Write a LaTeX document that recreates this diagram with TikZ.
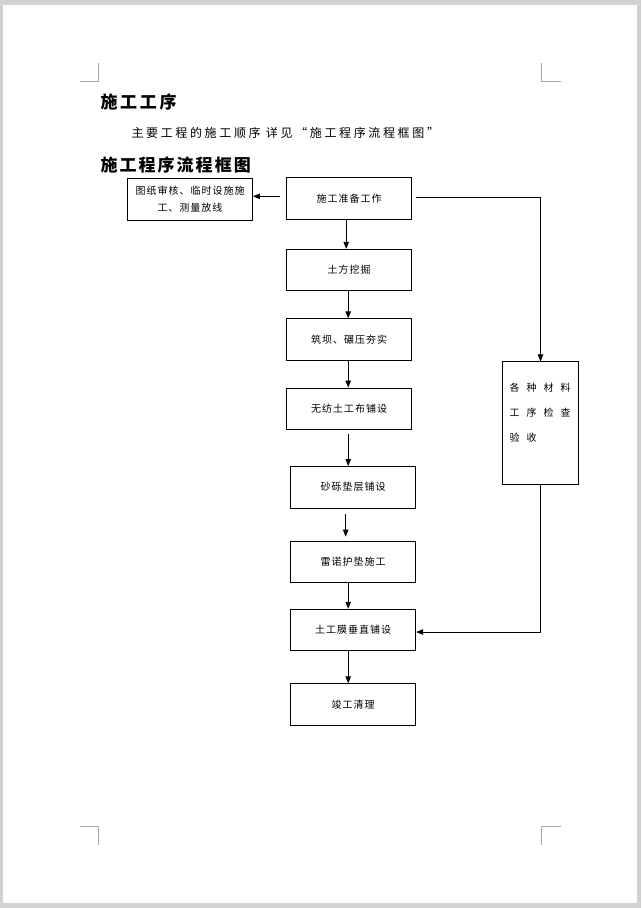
\documentclass[tikz,border=0pt]{standalone}
\usepackage{fontspec}
\setmainfont{Noto Sans CJK SC}
\newfontfamily\boxfont{Noto Sans CJK SC}[LetterSpace=10]
\newfontfamily\sidefont{Noto Sans CJK SC}[LetterSpace=70]
\newfontfamily\headfont{Noto Sans CJK SC}[LetterSpace=12]
\newfontfamily\topfont{Noto Sans CJK SC}[LetterSpace=16]
\newfontfamily\bodyfont{Noto Sans CJK SC}[LetterSpace=22]
\usepackage{xcolor}
\usepackage{tikz}
\usetikzlibrary{arrows.meta}

\begin{document}
\begin{tikzpicture}[x=1pt,y=-1pt,
    box/.style={draw,line width=0.9pt,minimum width=125pt,minimum height=41.5pt,inner sep=0pt,font=\boxfont\fontsize{10}{12}\selectfont},
    arr/.style={line width=0.9pt,-{Triangle[length=7pt,width=5.5pt]}},
    cropmark/.style={gray!70,line width=0.8pt}]
    % page
    \fill[gray!35] (0,0) rectangle (641,908);
    \fill[white] (2.5,4.5) rectangle (637,903);
    \draw[cropmark] (80,81) -- (98.5,81) -- (98.5,63);
    \draw[cropmark] (561,81) -- (541.5,81) -- (541.5,63);
    \draw[cropmark] (80,826) -- (98.5,826) -- (98.5,845);
    \draw[cropmark] (561,826) -- (541.5,826) -- (541.5,845);
    % headings
    \node[anchor=west,font=\topfont\bfseries\fontsize{17}{20}\selectfont] (title) at (97,102) {施工工序};
    \node[anchor=west,font=\bodyfont\fontsize{12}{14}\selectfont] (intro) at (128,133) {主要工程的施工顺序\ 详见“施工程序流程框图”};
    \node[anchor=west,font=\headfont\bfseries\fontsize{17}{20}\selectfont] (head) at (97,165) {施工程序流程框图};
    % boxes
    \node[box] (prep) at (349.2,198.3) {施工准备工作};
    \node[box,align=center,font=\boxfont\fontsize{10}{17}\selectfont] (plan) at (190,199.5) {图纸审核、临时设施施\\工、测量放线};
    \node[box] (dig) at (349.2,270) {土方挖掘};
    \node[box] (dam) at (349.2,339.5) {筑坝、碾压夯实};
    \node[box] (geo) at (349.2,408.8) {无纺土工布铺设};
    \node[box] (grav) at (353.2,487.2) {砂砾垫层铺设};
    \node[box] (reno) at (353.2,561.8) {雷诺护垫施工};
    \node[box] (memb) at (353.2,630) {土工膜垂直铺设};
    \node[box] (done) at (353.2,704.5) {竣工清理};
    \node[draw,line width=0.9pt,inner sep=0pt] (check) at (540.5,423.4) {\parbox[c][123pt][t]{75.6pt}{\sidefont\fontsize{10}{25}\selectfont\raggedright\leftskip=7pt\vspace*{21pt}各种材料\\工序检查\\验收}};
    % connectors
    \draw[arr] ([xshift=-3pt]prep.south) -- ([xshift=-3pt]dig.north);
    \draw[arr] ([xshift=-1pt]dig.south) -- ([xshift=-1pt]dam.north);
    \draw[arr] ([xshift=-1pt]dam.south) -- ([xshift=-1pt]geo.north);
    \draw[arr] ([xshift=-1pt,yshift=-4pt]geo.south) -- ([xshift=-5pt]grav.north);
    \draw[arr] ([xshift=-7.5pt,yshift=-6pt]grav.south) -- ([xshift=-7.5pt,yshift=4pt]reno.north);
    \draw[arr] ([xshift=-5pt]reno.south) -- ([xshift=-5pt]memb.north);
    \draw[arr] ([xshift=-5pt]memb.south) -- ([xshift=-5pt]done.north);
    \draw[arr] ([xshift=-6pt,yshift=2pt]prep.west) -- ([yshift=2pt]prep.west -| plan.east);
    \draw[arr] ([xshift=4pt,yshift=1pt]prep.east) -| (check.north);
    \draw[arr] (check.south) |- ([yshift=-2pt]memb.east);
\end{tikzpicture}
\end{document}
